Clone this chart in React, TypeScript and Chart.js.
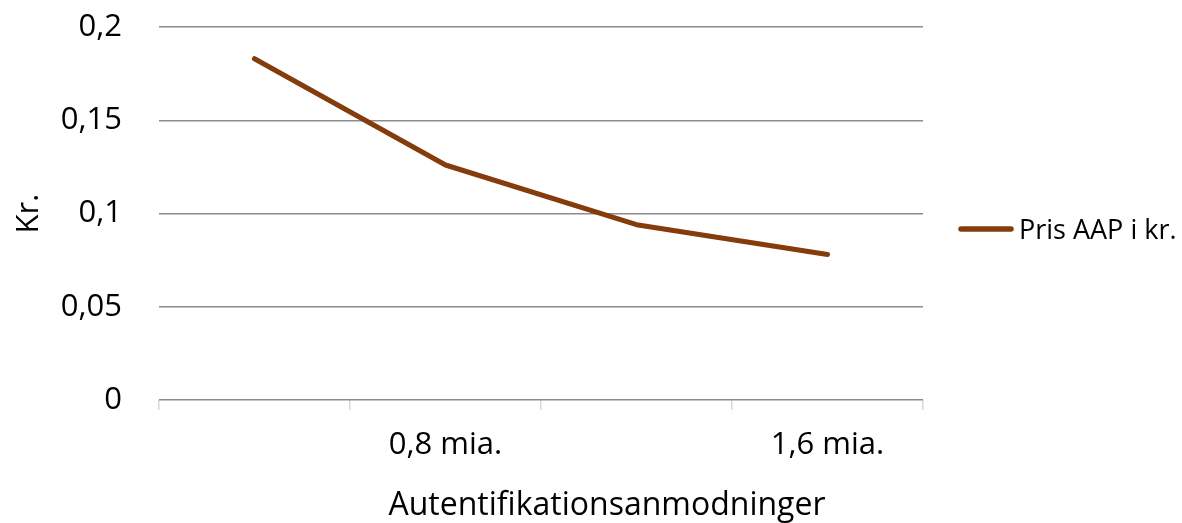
import React, { useEffect, useRef } from "react";
import { Chart, registerables } from "chart.js";

Chart.register(...registerables);

const categories: string[] = ["", "0,8 mia.", "", "1,6 mia."];
const prisValues: number[] = [0.183, 0.126, 0.094, 0.078];
const seriesLabel = "Pris AAP i kr.";
const yTitle = "Kr.";
const xTitle = "Autentifikationsanmodninger";
const yMin = 0;
const yMax = 0.2;
const yStep = 0.05;

const FONT = "'Open Sans', 'Noto Sans', sans-serif";
const LINE_COLOR = "#843C0C";

export default function App() {
  const canvasRef = useRef<HTMLCanvasElement | null>(null);

  useEffect(() => {
    if (!canvasRef.current) return;
    const extras = {
      id: "extras",
      afterDraw(chart: any) {
        const ctx = chart.ctx as CanvasRenderingContext2D;
        const ds = chart.data.datasets[0];
        ctx.save();
        // x axis title
        ctx.fillStyle = "#000000";
        ctx.font = `32px ${FONT}`;
        ctx.textAlign = "center";
        ctx.textBaseline = "alphabetic";
        ctx.fillText(xTitle, 607, 515);
        // legend
        ctx.strokeStyle = ds.borderColor;
        ctx.lineWidth = 5.5;
        ctx.lineCap = "round";
        ctx.beginPath();
        ctx.moveTo(961, 229);
        ctx.lineTo(1011, 229);
        ctx.stroke();
        ctx.font = `27px ${FONT}`;
        ctx.textAlign = "left";
        ctx.fillText(ds.label, 1019, 239);
        ctx.restore();
      },
    };

    const chart = new Chart(canvasRef.current, {
      type: "line",
      data: {
        labels: categories,
        datasets: [
          {
            label: seriesLabel,
            data: prisValues,
            borderColor: LINE_COLOR,
            backgroundColor: LINE_COLOR,
            borderWidth: 5,
            borderCapStyle: "round",
            borderJoinStyle: "round",
            pointRadius: 0,
            pointHoverRadius: 0,
            tension: 0,
            fill: false,
          },
        ],
      },
      options: {
        animation: false,
        responsive: true,
        maintainAspectRatio: false,
        layout: { padding: { left: 0, right: 259, top: 27, bottom: 0 } },
        plugins: {
          legend: { display: false },
          tooltip: { enabled: false },
        },
        scales: {
          x: {
            type: "category",
            offset: true,
            border: { display: false },
            grid: {
              offset: true,
              drawOnChartArea: false,
              drawTicks: true,
              tickLength: 10,
              color: "#d9d9d9",
              lineWidth: 1.5,
            },
            ticks: {
              autoSkip: false,
              maxRotation: 0,
              padding: 17,
              color: "#000000",
              font: { family: FONT, size: 31 },
            },
            afterFit(scale: any) {
              scale.height = 123;
              scale.paddingTop = 0;
              scale.paddingBottom = 0;
              scale.paddingLeft = 0;
              scale.paddingRight = 0;
            },
          },
          y: {
            min: yMin,
            max: yMax,
            border: { display: false },
            grid: {
              drawTicks: false,
              tickLength: 0,
              color: "#8c8c8c",
              lineWidth: 1.5,
            },
            ticks: {
              stepSize: yStep,
              padding: 37,
              color: "#000000",
              font: { family: FONT, size: 31 },
              callback: (v: any) => String(Number(Number(v).toFixed(2))).replace(".", ","),
            },
            title: {
              display: true,
              text: yTitle,
              color: "#000000",
              font: { family: FONT, size: 31 },
              padding: { top: 11, bottom: 0 },
            },
            afterFit(scale: any) {
              scale.width = 159;
              scale.paddingTop = 0;
              scale.paddingBottom = 0;
            },
          },
        },
      },
      plugins: [extras],
    });
    return () => chart.destroy();
  }, []);

  return (
    <div style={{ position: "absolute", left: 0, top: 0, width: 1182, height: 523, background: "#ffffff" }}>
      <canvas ref={canvasRef} />
    </div>
  );
}
